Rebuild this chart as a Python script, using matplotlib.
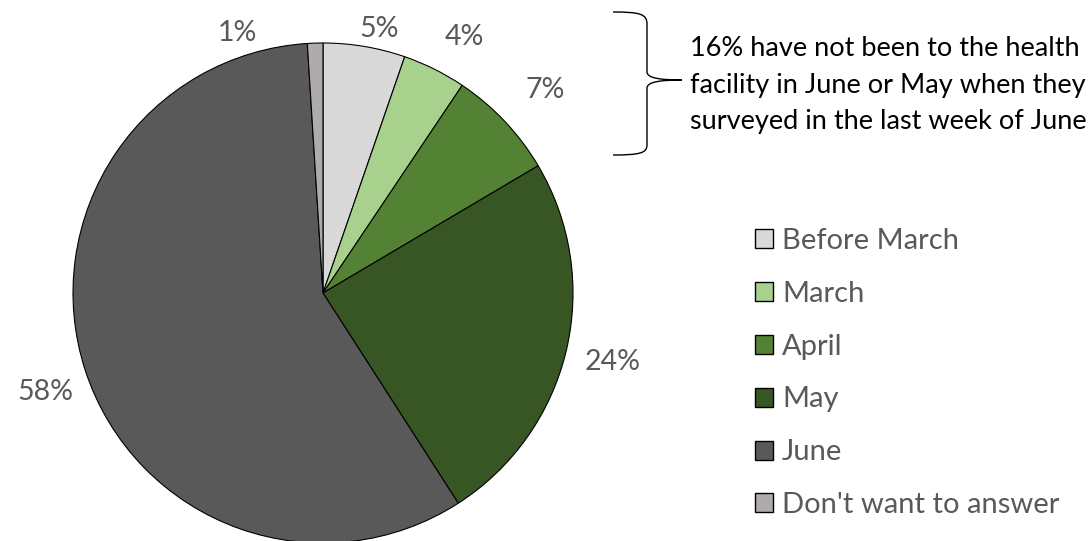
import matplotlib
matplotlib.use('Agg')
from matplotlib import pyplot as plt
from matplotlib.path import Path
from matplotlib.patches import PathPatch, Patch

plt.rcParams['font.family'] = ['Lato', 'DejaVu Sans']

# data (clockwise from 12 o'clock)
categories = ['Before March', 'March', 'April', 'May', 'June', "Don't want to answer"]
shares = [5.3, 4.1, 7.1, 24.4, 58.1, 1.0]
colors = ['#d9d9d9', '#a9d18e', '#548235', '#375623', '#595959', '#afabab']
note = ('16% have not been to the health\n'
        'facility in June or May when they\n'
        'surveyed in the last week of June')

# label spots (pixels) the way the original placed them
label_px = [(379, 29), (464, 37), (545, 90), (613, 362), (45, 392), (237, 33)]

W, H = 1091, 541
fig = plt.figure(figsize=(W / 100, H / 100), dpi=100)

# pie axes
cx, cy, r = 323, 293, 250
ax = fig.add_axes([(cx - r) / W, (H - cy - r) / H, 2 * r / W, 2 * r / H])
wedges, _, autotexts = ax.pie(shares, colors=colors, startangle=90, counterclock=False,
                              autopct='%1.0f%%', pctdistance=1.16,
                              wedgeprops=dict(edgecolor='black', linewidth=0.8),
                              textprops=dict(color='#595959', fontsize=20.5))
for t, (px, py) in zip(autotexts, label_px):
    t.set_position(((px - cx) / r, (cy - py) / r))
    t.set_clip_on(False)
ax.set_xlim(-1, 1)
ax.set_ylim(-1, 1)
ax.set_aspect('equal')
ax.axis('off')

# overlay in pixel coordinates for the brace and note
ov = fig.add_axes([0, 0, 1, 1])
ov.set_xlim(0, W)
ov.set_ylim(H, 0)
ov.axis('off')

verts = [(613, 12), (640, 12), (647, 14), (647, 24),
         (647, 72),
         (647, 78), (660, 80), (682, 80),
         (660, 80), (647, 82), (647, 88),
         (647, 145),
         (647, 153), (640, 155), (613, 155)]
codes = [Path.MOVETO, Path.CURVE4, Path.CURVE4, Path.CURVE4,
         Path.LINETO,
         Path.CURVE4, Path.CURVE4, Path.CURVE4,
         Path.CURVE4, Path.CURVE4, Path.CURVE4,
         Path.LINETO,
         Path.CURVE4, Path.CURVE4, Path.CURVE4]
ov.add_patch(PathPatch(Path(verts, codes), fill=False, edgecolor='black', linewidth=1))
ov.text(690, 85, note, fontsize=19.5, color='black', va='center', ha='left', linespacing=1.6)

# legend
handles = [Patch(facecolor=c, edgecolor='black', linewidth=1) for c in colors]
leg = fig.legend(handles, categories, loc='upper left', bbox_to_anchor=(755 / W, 1 - 228 / H),
                 frameon=False, fontsize=21, labelcolor='#595959', labelspacing=0.92,
                 handlelength=0.62, handleheight=0.62, handletextpad=0.31,
                 borderpad=0, borderaxespad=0)

fig.savefig('out.png', dpi=100)
